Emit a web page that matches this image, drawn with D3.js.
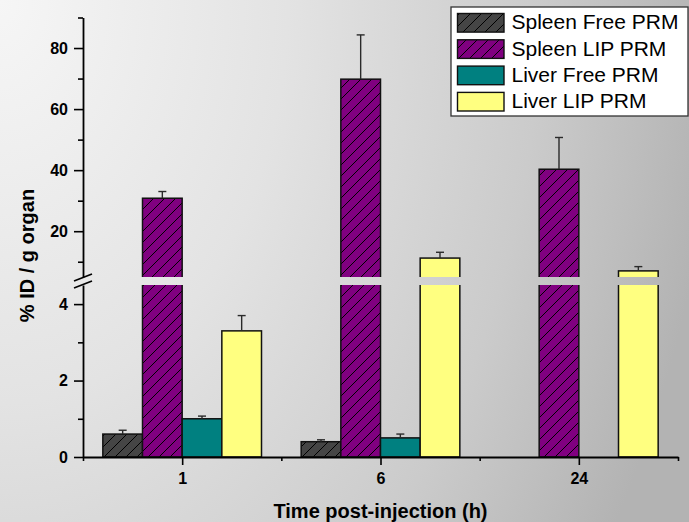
<!DOCTYPE html>
<html><head><meta charset="utf-8">
<script src="https://cdn.jsdelivr.net/npm/d3@7"></script>
<style>
html,body{margin:0;padding:0;background:#fff;}
svg{display:block;font-family:"Liberation Sans",Arial,sans-serif;}
</style></head>
<body>
<svg id="chart" width="689" height="522"></svg>
<script>
// ---- data ----
const categories = ["1", "6", "24"];
const seriesNames = ["Spleen Free PRM", "Spleen LIP PRM", "Liver Free PRM", "Liver LIP PRM"];
const spleenFree = [0.6, 0.4, null];
const spleenFreeErr = [0.1, 0.05, null];
const spleenLip = [30.8, 69.8, 40.3];
const spleenLipErr = [2.2, 14.5, 10.4];
const liverFree = [1.0, 0.5, null];
const liverFreeErr = [0.07, 0.1, null];
const liverLip = [3.3, 11.2, 7.0];
const liverLipErr = [0.4, 1.9, 1.4];
const lowerTicks = [0, 2, 4];
const lowerMinor = [1, 3];
const upperTicks = [20, 40, 60, 80];
const upperMinor = [10, 30, 50, 70, 90];

const seriesValues = [spleenFree, spleenLip, liverFree, liverLip];
const seriesErrors = [spleenFreeErr, spleenLipErr, liverFreeErr, liverLipErr];
const fills = ["#454545", "#800080", "#008080", "#ffff80"];
const hatched = [true, true, false, false];

const svg = d3.select("#chart");
const defs = svg.append("defs");

// background gradient
const grad = defs.append("radialGradient").attr("id", "bg")
  .attr("gradientUnits", "userSpaceOnUse")
  .attr("cx", 0).attr("cy", 0).attr("r", 720)
  .attr("gradientTransform", "scale(1,1.4)");
[[0, "#f6f6f6"], [0.4, "#e3e3e3"], [0.75, "#cbcbcb"], [1, "#b3b3b3"]].forEach(s =>
  grad.append("stop").attr("offset", s[0]).attr("stop-color", s[1]));

svg.append("rect").attr("width", 689).attr("height", 522).attr("fill", "url(#bg)");

// hatch patterns
fills.forEach((f, i) => {
  if (!hatched[i]) return;
  const p = defs.append("pattern").attr("id", "hatch" + i)
    .attr("patternUnits", "userSpaceOnUse").attr("width", 11).attr("height", 11);
  p.append("rect").attr("width", 11).attr("height", 11).attr("fill", f);
  p.append("path").attr("d", "M-1,1 l2,-2 M0,11 l11,-11 M10,12 l2,-2")
    .attr("stroke", "#000").attr("stroke-width", 1);
});
const fillOf = i => hatched[i] ? `url(#hatch${i})` : fills[i];

// scales
const x = d3.scaleLinear().domain([0.5, 3.5]).range([83, 678]);
const yLow = d3.scaleLinear().domain([0, 4.5]).range([457, 285]);
const yHigh = d3.scaleLinear().domain([5, 90]).range([277, 17.5]);
const yPos = v => v <= 4.5 ? yLow(v) : yHigh(v);
const barW = 0.2;

// bars
const g = svg.append("g");
seriesValues.forEach((vals, si) => {
  vals.forEach((v, ci) => {
    if (v == null) return;
    const c = ci + 1;
    const x0 = x(c + (si - 2) * barW), x1 = x(c + (si - 1) * barW);
    g.append("rect")
      .attr("x", x0).attr("width", x1 - x0)
      .attr("y", yPos(v)).attr("height", yLow(0) - yPos(v))
      .attr("fill", fillOf(si)).attr("stroke", "#111").attr("stroke-width", 1.5);
    const e = seriesErrors[si][ci];
    if (e != null) {
      const xm = (x0 + x1) / 2;
      g.append("line").attr("x1", xm).attr("x2", xm)
        .attr("y1", yPos(v)).attr("y2", yPos(v + e))
        .attr("stroke", "#2a2a2a").attr("stroke-width", 1.4);
      g.append("line").attr("x1", xm - 4).attr("x2", xm + 4)
        .attr("y1", yPos(v + e)).attr("y2", yPos(v + e))
        .attr("stroke", "#2a2a2a").attr("stroke-width", 1.4);
    }
  });
});

// break gap
svg.append("rect").attr("x", 76).attr("y", yHigh(5)).attr("width", 610)
  .attr("height", yLow(4.5) - yHigh(5)).attr("fill", "url(#bg)");

// y axes
const ax = x(0.5);
const styleAxis = sel => {
  sel.select(".domain").attr("stroke-width", 1.8);
  sel.selectAll(".tick line").attr("stroke-width", 1.6);
  sel.selectAll(".tick text").attr("font-size", 16).attr("font-weight", "bold")
    .attr("font-family", "Liberation Sans, Arial, sans-serif").attr("fill", "#000");
};
const lowAx = svg.append("g").attr("transform", `translate(${ax},0)`)
  .call(d3.axisLeft(yLow).tickValues(lowerTicks).tickFormat(d3.format("d"))
    .tickSize(9).tickPadding(6).tickSizeOuter(0));
styleAxis(lowAx);
svg.append("g").attr("transform", `translate(${ax},0)`)
  .call(d3.axisLeft(yLow).tickValues(lowerMinor).tickSize(5).tickFormat("").tickSizeOuter(0))
  .call(s => { s.select(".domain").remove(); s.selectAll(".tick line").attr("stroke-width", 1.6); });
const upAx = svg.append("g").attr("transform", `translate(${ax},0)`)
  .call(d3.axisLeft(yHigh).tickValues(upperTicks).tickFormat(d3.format("d"))
    .tickSize(9).tickPadding(6).tickSizeOuter(0));
styleAxis(upAx);
svg.append("g").attr("transform", `translate(${ax},0)`)
  .call(d3.axisLeft(yHigh).tickValues(upperMinor).tickSize(5).tickFormat("").tickSizeOuter(0))
  .call(s => { s.select(".domain").remove(); s.selectAll(".tick line").attr("stroke-width", 1.6); });

// break marks
const bm = svg.append("g").attr("stroke", "#000").attr("stroke-width", 1.6);
bm.append("line").attr("x1", ax - 9).attr("y1", yHigh(5) + 4).attr("x2", ax + 9).attr("y2", yHigh(5) - 3);
bm.append("line").attr("x1", ax - 9).attr("y1", yLow(4.5) + 3).attr("x2", ax + 9).attr("y2", yLow(4.5) - 4);

// x axis
const xAx = svg.append("g").attr("transform", `translate(0,${yLow(0)})`)
  .call(d3.axisBottom(x).tickValues([1, 2, 3]).tickFormat((d, i) => categories[i])
    .tickSize(8).tickPadding(8).tickSizeOuter(0));
styleAxis(xAx);
svg.append("g").attr("transform", `translate(0,${yLow(0)})`)
  .call(d3.axisBottom(x).tickValues([0.5, 1.5, 2.5, 3.5]).tickSize(4).tickFormat("").tickSizeOuter(0))
  .call(s => { s.select(".domain").remove(); s.selectAll(".tick line").attr("stroke-width", 1.6); });

// titles
svg.append("text").attr("x", 380.5).attr("y", 518).attr("text-anchor", "middle")
  .attr("font-size", 20).attr("font-weight", "bold").text("Time post-injection (h)");
svg.append("text").attr("transform", "translate(34,255.5) rotate(-90)").attr("text-anchor", "middle")
  .attr("font-size", 20).attr("font-weight", "bold").text("% ID / g organ");

// legend
const lg = svg.append("g");
lg.append("rect").attr("x", 451).attr("y", 7).attr("width", 237).attr("height", 109)
  .attr("fill", "#fff").attr("stroke", "#333").attr("stroke-width", 1.3);
seriesNames.forEach((name, i) => {
  const cy = 22.8 + i * 26.3;
  lg.append("rect").attr("x", 457.5).attr("y", cy - 9.3).attr("width", 46.5).attr("height", 18.6)
    .attr("fill", fillOf(i)).attr("stroke", "#111").attr("stroke-width", 1.4);
  lg.append("text").attr("x", 511.5).attr("y", cy + 6.6).attr("font-size", 21)
    .attr("fill", "#000").text(name);
});
</script>
</body></html>
